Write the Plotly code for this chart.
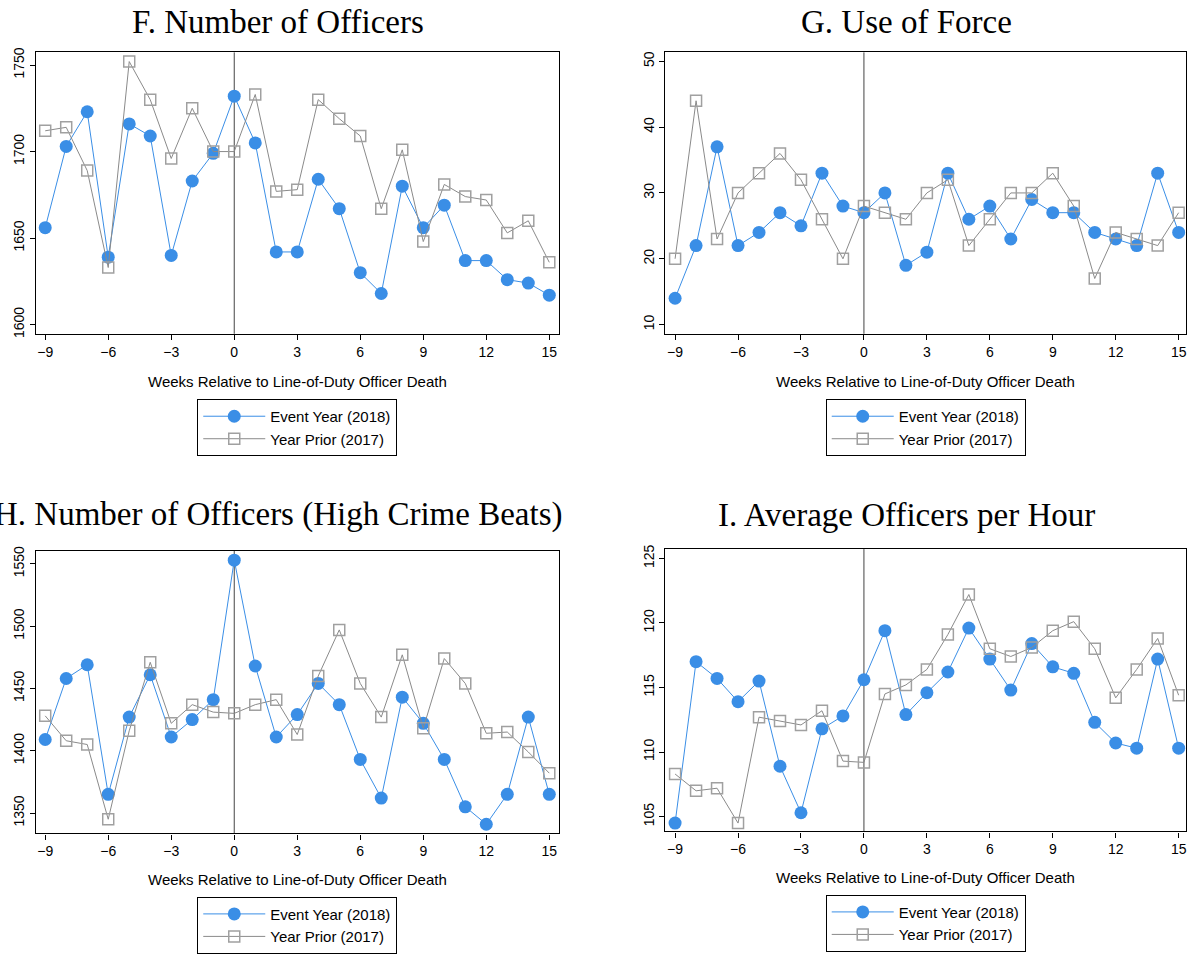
import plotly.graph_objects as go

weeks = list(range(-9, 16))

# F. Number of Officers
officers_2018 = [1656, 1703, 1723, 1639, 1716, 1709, 1640, 1683, 1699, 1732, 1705, 1642, 1642,
                 1684, 1667, 1630, 1618, 1680, 1656, 1669, 1637, 1637, 1626, 1624, 1617]
officers_2017 = [1712, 1714, 1689, 1633, 1752, 1730, 1696, 1725, 1700, 1700, 1733, 1677, 1678,
                 1730, 1719, 1709, 1667, 1701, 1648, 1681, 1674, 1672, 1653, 1660, 1636]

# G. Use of Force
force_2018 = [14, 22, 37, 22, 24, 27, 25, 33, 28, 27, 30, 19, 21,
              33, 26, 28, 23, 29, 27, 27, 24, 23, 22, 33, 24]
force_2017 = [20, 44, 23, 30, 33, 36, 32, 26, 20, 28, 27, 26, 30,
              32, 22, 26, 30, 30, 33, 28, 17, 24, 23, 22, 27]

# H. Number of Officers (High Crime Beats)
highcrime_2018 = [1409, 1458, 1469, 1365, 1427, 1461, 1411, 1425, 1441, 1553, 1468, 1411, 1429,
                  1454, 1437, 1393, 1362, 1443, 1422, 1393, 1355, 1341, 1365, 1427, 1365]
highcrime_2017 = [1428, 1408, 1405, 1345, 1416, 1471, 1422, 1437, 1431, 1430, 1437, 1441, 1413,
                  1460, 1497, 1454, 1427, 1477, 1418, 1474, 1454, 1414, 1415, 1399, 1382]

# I. Average Officers per Hour
perhour_2018 = [104.5, 117.0, 115.7, 113.9, 115.5, 108.9, 105.3, 111.8, 112.8, 115.6, 119.4, 112.9, 114.6,
                116.2, 119.6, 117.2, 114.8, 118.4, 116.6, 116.1, 112.3, 110.7, 110.3, 117.2, 110.3]
perhour_2017 = [108.3, 107.0, 107.2, 104.5, 112.7, 112.4, 112.1, 113.2, 109.3, 109.2, 114.5, 115.2, 116.4,
                119.1, 122.2, 118.0, 117.4, 118.1, 119.4, 120.1, 118.0, 114.2, 116.4, 118.8, 114.4]

x_ticks = [-9, -6, -3, 0, 3, 6, 9, 12, 15]

W, H = 1194, 954
BLUE = "#3a8ee6"
GRAY_LINE = "#8a8a8a"
GRAY_MARK = "#a0a0a0"
SANS = "Liberation Sans"
SERIF = "Liberation Serif"


def fx(p):
    return p / W


def fy(p):
    return 1 - p / H


panels = [
    dict(title="F. Number of Officers", ev=officers_2018, pr=officers_2017,
         yr=[1594.7, 1757.3], yt=[1600, 1650, 1700, 1750], xr=[-9.44, 15.44],
         box=(36, 559, 48, 333), title_y=17, xt_y=381, leg_y=399),
    dict(title="G. Use of Force", ev=force_2018, pr=force_2017,
         yr=[8.6, 51.35], yt=[10, 20, 30, 40, 50], xr=[-9.46, 15.35],
         box=(666, 1187, 48, 333), title_y=17, xt_y=381, leg_y=399),
    dict(title="H. Number of Officers (High Crime Beats)", ev=highcrime_2018, pr=highcrime_2017,
         yr=[1333.6, 1560.3], yt=[1350, 1400, 1450, 1500, 1550], xr=[-9.44, 15.44],
         box=(36, 559, 553, 839), title_y=516, xt_y=886, leg_y=903),
    dict(title="I. Average Officers per Hour", ev=perhour_2018, pr=perhour_2017,
         yr=[103.85, 125.72], yt=[105, 110, 115, 120, 125], xr=[-9.46, 15.35],
         box=(666, 1187, 551, 837), title_y=516, xt_y=884, leg_y=901),
]

fig = go.Figure()
annotations = []
shapes = []
layout_axes = {}

for i, p in enumerate(panels):
    n = "" if i == 0 else str(i + 1)
    leg = "legend" if i == 0 else "legend" + str(i + 1)
    x0, x1, y0, y1 = p["box"]

    fig.add_trace(go.Scatter(
        x=weeks, y=p["ev"], mode="lines+markers", name="Event Year (2018)",
        line=dict(color=BLUE, width=1), marker=dict(color=BLUE, size=13, symbol="circle"),
        xaxis="x" + n, yaxis="y" + n, legend=leg))
    fig.add_trace(go.Scatter(
        x=weeks, y=p["pr"], mode="lines+markers", name="Year Prior (2017)",
        line=dict(color=GRAY_LINE, width=1),
        marker=dict(color=GRAY_MARK, size=11, symbol="square-open", line=dict(width=1.5, color=GRAY_MARK)),
        xaxis="x" + n, yaxis="y" + n, legend=leg))

    layout_axes["xaxis" + n] = dict(
        domain=[fx(x0), fx(x1)], anchor="y" + n, range=p["xr"], tickvals=x_ticks,
        showgrid=False, zeroline=False, showline=True, mirror=True, linecolor="black", linewidth=1.2,
        ticks="outside", ticklen=5, tickcolor="black",
        tickfont=dict(family=SANS, size=14, color="black"))
    layout_axes["yaxis" + n] = dict(
        domain=[fy(y1), fy(y0)], anchor="x" + n, range=p["yr"], tickvals=p["yt"],
        showgrid=False, zeroline=False, showline=True, mirror=True, linecolor="black", linewidth=1.2,
        ticks="outside", ticklen=5, tickcolor="black", tickangle=-90,
        tickfont=dict(family=SANS, size=14, color="black"))
    layout_axes[leg] = dict(
        x=fx((x0 + x1) / 2), y=fy(p["leg_y"]), xanchor="center", yanchor="top",
        bordercolor="black", borderwidth=1, bgcolor="white", itemwidth=62,
        font=dict(family=SANS, size=15, color="black"), tracegroupgap=0)

    shapes.append(dict(type="line", xref="x" + n, yref="y" + n + " domain", x0=0, x1=0, y0=0, y1=1,
                       line=dict(color="#444444", width=1), layer="below"))

    annotations.append(dict(text=p["title"], x=fx((x0 + x1) / 2 - 19), y=fy(p["title_y"]),
                            xref="paper", yref="paper", xanchor="center", yanchor="middle",
                            showarrow=False, font=dict(family=SERIF, size=33, color="black")))
    annotations.append(dict(text="Weeks Relative to Line-of-Duty Officer Death",
                            x=fx((x0 + x1) / 2), y=fy(p["xt_y"]),
                            xref="paper", yref="paper", xanchor="center", yanchor="middle",
                            showarrow=False, font=dict(family=SANS, size=15, color="black")))

fig.update_layout(
    width=W, height=H,
    margin=dict(l=0, r=0, t=0, b=0),
    paper_bgcolor="white", plot_bgcolor="white",
    shapes=shapes, annotations=annotations,
    **layout_axes)

fig.write_html("out.html", config={"displayModeBar": False},
               post_script="document.body.style.margin='0';document.body.style.overflow='hidden';")
